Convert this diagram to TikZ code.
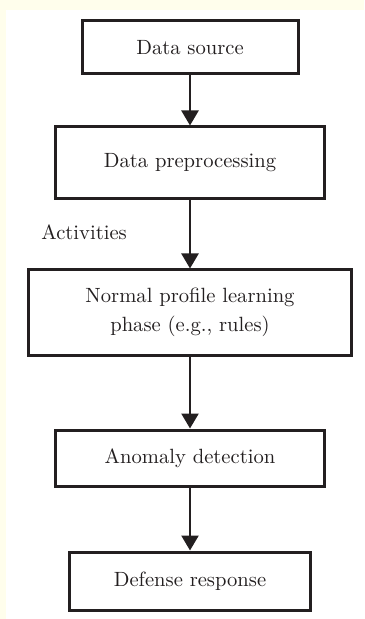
\documentclass[tikz,border=0pt]{standalone}
\usepackage{tikz}
\usetikzlibrary{arrows.meta}
\definecolor{pagecream}{RGB}{255,254,236}
\definecolor{inkdark}{RGB}{35,31,32}
\tikzset{
  stagebox/.style={draw=inkdark, line width=1.5pt, fill=white, inner sep=0pt,
    align=center, text=inkdark, font=\fontsize{10.3}{14.5}\selectfont},
  flowarrow/.style={draw=inkdark, line width=1.2pt,
    -{Triangle[length=7.5pt,width=8.5pt]}}
}
\begin{document}
\begin{tikzpicture}[x=0.5pt,y=-0.5pt]
  % Draw the page background
  \useasboundingbox (0,0) rectangle (364,619);
  \fill[pagecream] (0,0) rectangle (364,619);
  \fill[white] (6,10) rectangle (364,619);

  % Draw the stages
  \node[stagebox, minimum width=108pt, minimum height=26.5pt] (src) at (190,47.5) {Data source};
  \node[stagebox, minimum width=134.5pt, minimum height=36pt] (prep) at (190,163) {Data preprocessing};
  \node[stagebox, minimum width=161.5pt, minimum height=42.5pt] (learn) at (190,312.5) {Normal profile learning\\phase (e.g., rules)};
  \node[stagebox, minimum width=134.5pt, minimum height=28pt] (detect) at (190,458) {Anomaly detection};
  \node[stagebox, minimum width=120.5pt, minimum height=29pt] (resp) at (190,581) {Defense response};

  % Label the input flow
  \node[anchor=west, inner sep=0pt, text=inkdark, font=\fontsize{10.3}{12}\selectfont] (act) at (41,232) {Activities};

  % Draw the arrows
  \draw[flowarrow] (src) -- (prep);
  \draw[flowarrow] (prep) -- (learn);
  \draw[flowarrow] (learn) -- (detect);
  \draw[flowarrow] (detect) -- (resp);
\end{tikzpicture}
\end{document}
